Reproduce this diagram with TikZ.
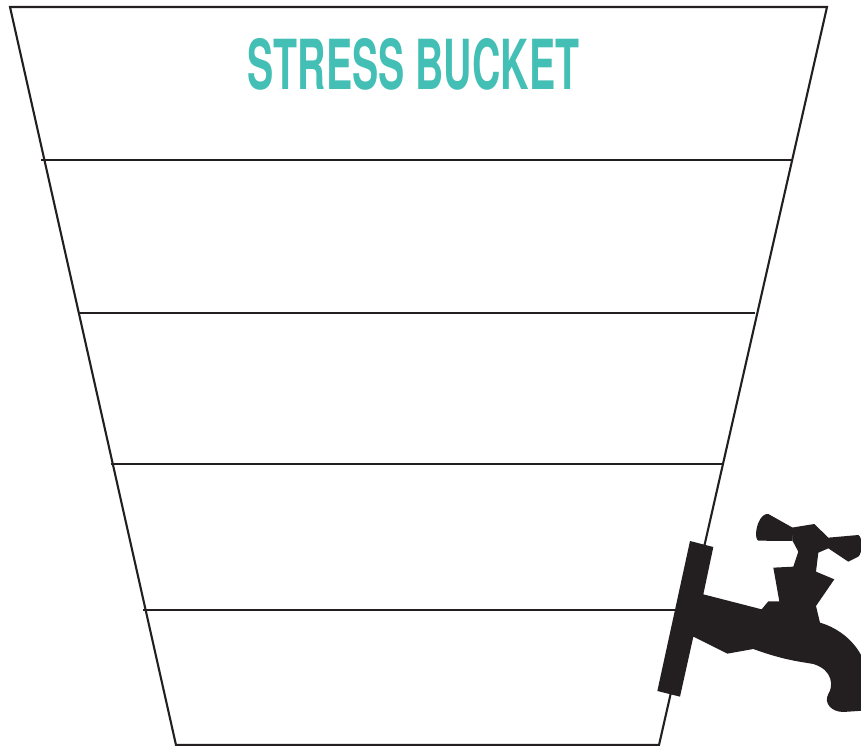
\documentclass[tikz,border=0pt]{standalone}
\usepackage{graphicx}
\usepackage{fontspec}
\setmainfont{TeX Gyre Heros}
\definecolor{tealtitle}{HTML}{44BFB5}
\definecolor{tapblack}{HTML}{231F20}
\tikzset{bucketline/.style={draw=tapblack,line width=2.1pt,line join=miter}}
\begin{document}
\begin{tikzpicture}[x=1pt,y=-1pt]
\useasboundingbox (0,0) rectangle (861,746);
\draw[bucketline] (10,7) -- (827,7) -- (659,745) -- (176,745) -- cycle;
\draw[bucketline] (41,160) -- (792,160);
\draw[bucketline] (77.5,313) -- (755,313);
\draw[bucketline] (110.5,464) -- (723,464);
\draw[bucketline] (143,610) -- (680,610);
\node[text=tealtitle,inner sep=0pt,anchor=center] (title) at (413.5,64) {\scalebox{0.569}[1]{\fontsize{69pt}{69pt}\selectfont\bfseries STRESS BUCKET}};
\begin{scope}[shift={(640,500)},x=0.3333pt,y=-0.3333pt]
\clip (-640*3,-500*3) rectangle (221*3,246*3);
\fill[tapblack] (150,123) -- (220,141) -- (190,283) -- (365,328) -- (385,304) -- (418,304)
 -- (400,203) -- (460,200) -- (475,155) -- (458,123) -- (455,83) -- (523,72) -- (565,113)
 -- (655,105) .. controls (668,110) and (668,160) .. (655,170)
 -- (625,185) -- (565,145) -- (535,158) -- (528,215) -- (583,238) -- (528,318) -- (540,368)
 .. controls (600,385) and (650,430) .. (670,480) -- (670,632) -- (610,636)
 .. controls (575,636) and (550,610) .. (565,582)
 .. controls (580,560) and (580,510) .. (520,492)
 .. controls (480,485) and (430,480) .. (340,447)
 -- (262,461) -- (160,410) -- (120,590) -- (52,573) -- cycle;
\fill[tapblack] (348,100) .. controls (350,70) and (365,40) .. (385,42) -- (458,83) -- (458,123) -- (355,122) .. controls (350,120) and (348,110) .. (348,100) -- cycle;
\end{scope}
\end{tikzpicture}
\end{document}
